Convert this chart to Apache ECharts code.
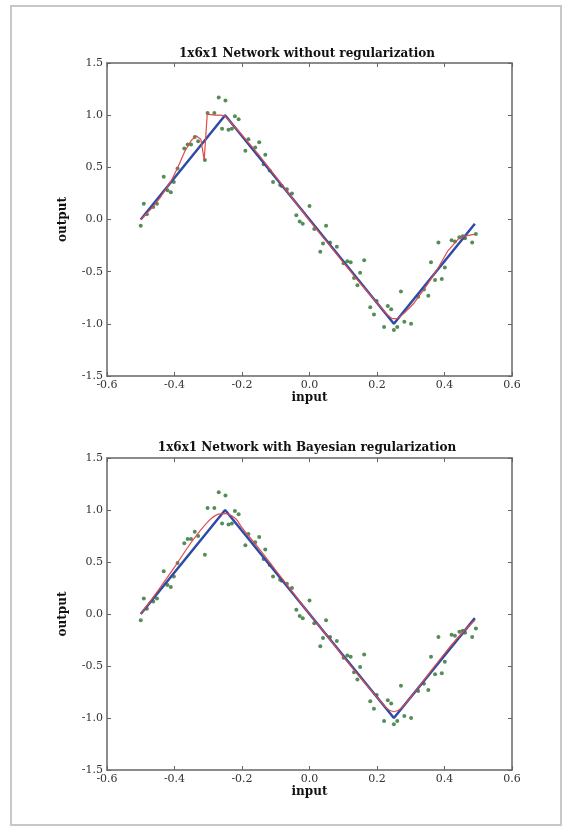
<!DOCTYPE html>
<html>
<head>
<meta charset="utf-8">
<script src="https://cdn.jsdelivr.net/npm/echarts@6/dist/echarts.min.js"></script>
<style>
html,body{margin:0;padding:0;background:#fff;}
#chart{width:574px;height:831px;}
</style>
</head>
<body>
<div id="chart"></div>
<script>
// ---- data ----
const titles = ['1x6x1 Network without regularization', '1x6x1 Network with Bayesian regularization'];
const xTicks = [-0.6, -0.4, -0.2, 0.0, 0.2, 0.4, 0.6];
const yTicks = [-1.5, -1.0, -0.5, 0.0, 0.5, 1.0, 1.5];

// noisy training samples (green dots)
const samples = [
  [-0.500,-0.06],[-0.491,0.15],[-0.482,0.05],[-0.463,0.12],[-0.452,0.15],[-0.432,0.41],
  [-0.421,0.28],[-0.411,0.26],[-0.402,0.36],[-0.391,0.49],[-0.371,0.68],[-0.361,0.72],
  [-0.351,0.72],[-0.340,0.79],[-0.330,0.75],[-0.310,0.57],[-0.302,1.02],[-0.282,1.02],
  [-0.269,1.17],[-0.249,1.14],[-0.259,0.87],[-0.240,0.86],[-0.230,0.87],[-0.221,0.99],
  [-0.210,0.96],[-0.190,0.66],[-0.181,0.77],[-0.161,0.69],[-0.149,0.74],[-0.131,0.62],
  [-0.136,0.53],[-0.118,0.47],[-0.108,0.36],[-0.087,0.33],[-0.082,0.32],[-0.067,0.29],
  [-0.052,0.25],[-0.039,0.04],[-0.029,-0.02],[-0.020,-0.04],[0.000,0.13],[0.014,-0.09],
  [0.049,-0.06],[0.040,-0.23],[0.032,-0.31],[0.061,-0.22],[0.081,-0.26],[0.101,-0.42],
  [0.112,-0.40],[0.122,-0.41],[0.162,-0.39],[0.150,-0.51],[0.132,-0.56],[0.142,-0.63],
  [0.180,-0.84],[0.199,-0.78],[0.191,-0.91],[0.232,-0.83],[0.242,-0.86],[0.221,-1.03],
  [0.250,-1.06],[0.260,-1.03],[0.281,-0.98],[0.301,-1.00],[0.271,-0.69],[0.322,-0.74],
  [0.339,-0.67],[0.352,-0.73],[0.372,-0.58],[0.392,-0.57],[0.360,-0.41],[0.401,-0.46],
  [0.382,-0.22],[0.421,-0.20],[0.431,-0.21],[0.444,-0.17],[0.454,-0.16],[0.461,-0.18],
  [0.482,-0.22],[0.493,-0.14]
];

// target function (blue)
const target = [[-0.5,0.0],[-0.25,1.0],[0.25,-1.0],[0.49,-0.04]];

// network fit without regularization (red, top)
const fitPlain = [
  [-0.5,0.0],[-0.47,0.10],[-0.44,0.22],[-0.41,0.37],[-0.39,0.50],[-0.37,0.65],[-0.35,0.76],
  [-0.335,0.80],[-0.322,0.77],[-0.312,0.57],[-0.303,1.01],[-0.28,1.00],[-0.265,1.00],
  [-0.25,0.99],[-0.2,0.81],[-0.15,0.62],[-0.1,0.41],[-0.05,0.20],[0.0,-0.01],[0.05,-0.21],
  [0.1,-0.41],[0.15,-0.61],[0.2,-0.80],[0.23,-0.91],[0.245,-0.95],[0.26,-0.95],[0.28,-0.90],
  [0.31,-0.80],[0.35,-0.62],[0.38,-0.47],[0.41,-0.30],[0.44,-0.19],[0.46,-0.16],[0.49,-0.14]
];

// network fit with Bayesian regularization (red, bottom)
const fitBayes = [
  [-0.5,0.0],[-0.45,0.22],[-0.40,0.45],[-0.35,0.69],[-0.30,0.89],[-0.27,0.96],[-0.25,0.965],
  [-0.22,0.92],[-0.20,0.83],[-0.15,0.63],[-0.10,0.42],[-0.05,0.21],[0.0,0.0],[0.05,-0.20],
  [0.10,-0.41],[0.15,-0.61],[0.20,-0.80],[0.23,-0.91],[0.25,-0.94],[0.27,-0.91],[0.30,-0.80],
  [0.35,-0.59],[0.40,-0.38],[0.45,-0.19],[0.49,-0.06]
];
const fits = [fitPlain, fitBayes];

// ---- chart ----
const FONT = 'DejaVu Serif';
const fmt = v => (Math.round(v * 10) / 10).toFixed(1);
const grids = [
  {left: 107, right: 62, top: 63, height: 313},
  {left: 107, right: 62, top: 458, height: 312}
];
const axisLine = {show: true, onZero: false, lineStyle: {color: '#666', width: 1.5}};
const tick = {show: true, inside: true, length: 4, lineStyle: {color: '#666', width: 1}};
const nameStyle = {fontFamily: FONT, fontWeight: 'bold', fontSize: 12, color: '#111'};
const labelStyle = {formatter: fmt, fontFamily: FONT, fontSize: 11, color: '#333', showMinLabel: true, showMaxLabel: true};

const xAxis = [], yAxis = [], series = [], title = [];
grids.forEach((g, i) => {
  title.push({
    text: titles[i], left: 302, textAlign: 'center', top: i === 0 ? 43 : 437,
    textStyle: {fontFamily: FONT, fontWeight: 'bold', fontSize: 12, color: '#111'}
  });
  xAxis.push({
    type: 'value', gridIndex: i, position: 'bottom', min: xTicks[0], max: xTicks[xTicks.length-1], interval: 0.2,
    name: 'input', nameLocation: 'middle', nameGap: 15, nameTextStyle: nameStyle,
    axisLine, axisTick: tick, splitLine: {show: false},
    axisLabel: Object.assign({margin: 4}, labelStyle)
  });
  xAxis.push({
    type: 'value', gridIndex: i, position: 'top', min: xTicks[0], max: xTicks[xTicks.length-1], interval: 0.2,
    axisLine, axisTick: tick, splitLine: {show: false}, axisLabel: {show: false}
  });
  yAxis.push({
    type: 'value', gridIndex: i, position: 'left', min: yTicks[0], max: yTicks[yTicks.length-1], interval: 0.5,
    name: 'output', nameLocation: 'middle', nameGap: 38, nameRotate: 90, nameTextStyle: nameStyle,
    axisLine, axisTick: tick, splitLine: {show: false},
    axisLabel: Object.assign({margin: 4}, labelStyle)
  });
  yAxis.push({
    type: 'value', gridIndex: i, position: 'right', min: yTicks[0], max: yTicks[yTicks.length-1], interval: 0.5,
    axisLine, axisTick: tick, splitLine: {show: false}, axisLabel: {show: false}
  });
  series.push({
    type: 'scatter', xAxisIndex: 2*i, yAxisIndex: 2*i, data: samples,
    symbol: 'circle', symbolSize: 4, itemStyle: {color: '#2a7030'}, z: 2, silent: true
  });
  series.push({
    type: 'line', xAxisIndex: 2*i, yAxisIndex: 2*i, data: target, showSymbol: false,
    lineStyle: {color: '#2c4ca6', width: 2.5}, z: 3, silent: true
  });
  series.push({
    type: 'line', xAxisIndex: 2*i, yAxisIndex: 2*i, data: fits[i], showSymbol: false,
    smooth: i === 1 ? 0.3 : false,
    lineStyle: {color: '#e04a4a', width: 1.2}, z: 4, silent: true
  });
});

const chart = echarts.init(document.getElementById('chart'), null, {renderer: 'canvas'});
chart.setOption({
  animation: false,
  backgroundColor: '#fff',
  title, grid: grids, xAxis, yAxis, series,
  graphic: [{
    type: 'rect', shape: {x: 11, y: 6, width: 550, height: 819},
    style: {fill: 'none', stroke: '#c8c8c8', lineWidth: 2}, silent: true, z: -1
  }]
});
</script>
</body>
</html>
